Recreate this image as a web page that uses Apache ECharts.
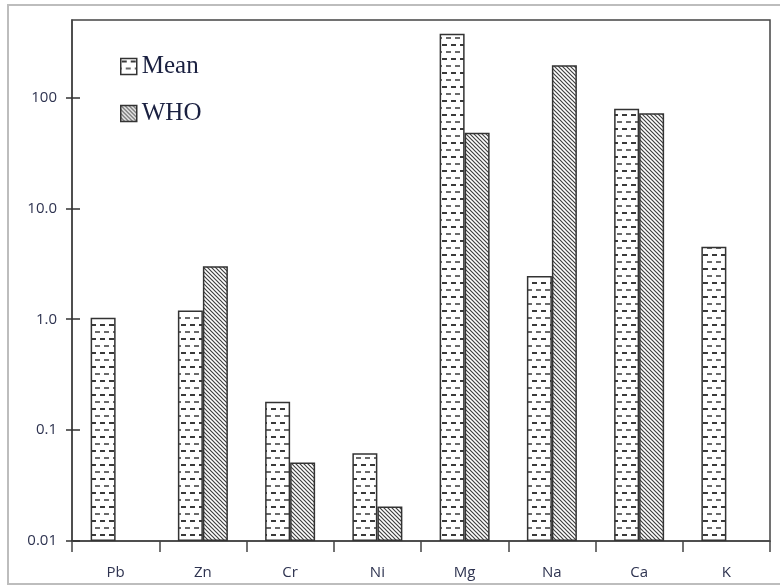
<!DOCTYPE html>
<html>
<head>
<meta charset="utf-8">
<script src="https://cdn.jsdelivr.net/npm/echarts@6/dist/echarts.min.js"></script>
<style>html,body{margin:0;padding:0;background:#fff}#c{width:780px;height:586px}</style>
</head>
<body>
<div id="c"></div>
<script>
var categories = ['Pb', 'Zn', 'Cr', 'Ni', 'Mg', 'Na', 'Ca', 'K'];
var meanValues = [1.03, 1.2, 0.18, 0.062, 375, 2.45, 79, 4.5];
var whoValues = [null, 3.0, 0.051, 0.0205, 48, 195, 72, null];
var yTickValues = [0.01, 0.1, 1, 10, 100];
var yTickLabels = { '0.01': '0.01', '0.1': '0.1', '1': '1.0', '10': '10.0', '100': '100' };

function dashPattern() {
  var c = document.createElement('canvas');
  c.width = 9; c.height = 14;
  var g = c.getContext('2d');
  g.fillStyle = '#fff'; g.fillRect(0, 0, 9, 14);
  g.fillStyle = '#3a3a3a'; g.fillRect(1, 2, 5, 2);
  g.fillStyle = '#6a6a6a'; g.fillRect(5, 9, 4, 2); g.fillRect(0, 9, 1, 2);
  return c;
}
function hatchPattern() {
  var c = document.createElement('canvas');
  c.width = 4; c.height = 4;
  var g = c.getContext('2d');
  g.fillStyle = '#fff'; g.fillRect(0, 0, 4, 4);
  g.strokeStyle = '#404040'; g.lineWidth = 1.2;
  g.beginPath();
  g.moveTo(-1, -1); g.lineTo(5, 5);
  g.moveTo(-1, 3); g.lineTo(1, 5);
  g.moveTo(3, -1); g.lineTo(5, 1);
  g.stroke();
  return c;
}

var chart = echarts.init(document.getElementById('c'));
var labelFont = { fontFamily: 'Open Sans', fontSize: 15, color: '#2e3350' };
chart.setOption({
  animation: false,
  backgroundColor: '#fff',
  graphic: [{
    type: 'rect', shape: { x: 8, y: 5, width: 800, height: 579 },
    style: { fill: 'none', stroke: '#bdbdbd', lineWidth: 2 }, silent: true, z: -1
  }],
  grid: { left: 72, right: 10, top: 20, bottom: 45, show: true, borderColor: '#444', borderWidth: 1.5, backgroundColor: 'transparent' },
  legend: {
    orient: 'vertical', left: 115, top: 49, itemWidth: 16, itemHeight: 16, itemGap: 22, icon: 'rect',
    textStyle: { fontFamily: 'Liberation Serif', fontSize: 25, color: '#1a2040', padding: [0, 0, 0, 0] },
    itemStyle: { borderColor: '#333', borderWidth: 1.5 },
    data: ['Mean', 'WHO']
  },
  xAxis: {
    type: 'category', data: categories,
    axisLine: { lineStyle: { color: '#444', width: 1.5 } },
    axisTick: { show: true, length: 11, interval: 0, lineStyle: { color: '#444', width: 1.5 } },
    axisLabel: Object.assign({ margin: 24, interval: 0 }, labelFont)
  },
  yAxis: [{
    type: 'log', logBase: 10, min: 0.01, max: 500, startValue: 0.01,
    axisLine: { show: true, lineStyle: { color: '#444', width: 1.5 } },
    axisTick: { show: true, length: 6, customValues: yTickValues, lineStyle: { color: '#333', width: 1.5 } },
    splitLine: { show: false },
    axisLabel: Object.assign({ margin: 15, customValues: yTickValues, formatter: function (v) {
      var k = String(+(+v).toPrecision(6)); return yTickLabels[k] || '';
    } }, labelFont)
  }, {
    type: 'log', logBase: 10, min: 0.01, max: 500, position: 'left',
    axisLine: { show: false },
    axisTick: { show: true, inside: true, length: 8, customValues: yTickValues, lineStyle: { color: '#333', width: 1.5 } },
    splitLine: { show: false }, axisLabel: { show: false }
  }],
  series: [{
    name: 'Mean', type: 'bar', data: meanValues, barWidth: 25, barGap: '0%',
    itemStyle: { color: { image: dashPattern(), repeat: 'repeat' }, borderColor: '#333', borderWidth: 1.5 }
  }, {
    name: 'WHO', type: 'bar', data: whoValues, barWidth: 25,
    itemStyle: { color: { image: hatchPattern(), repeat: 'repeat' }, borderColor: '#333', borderWidth: 1.5 }
  }]
});
</script>
</body>
</html>
